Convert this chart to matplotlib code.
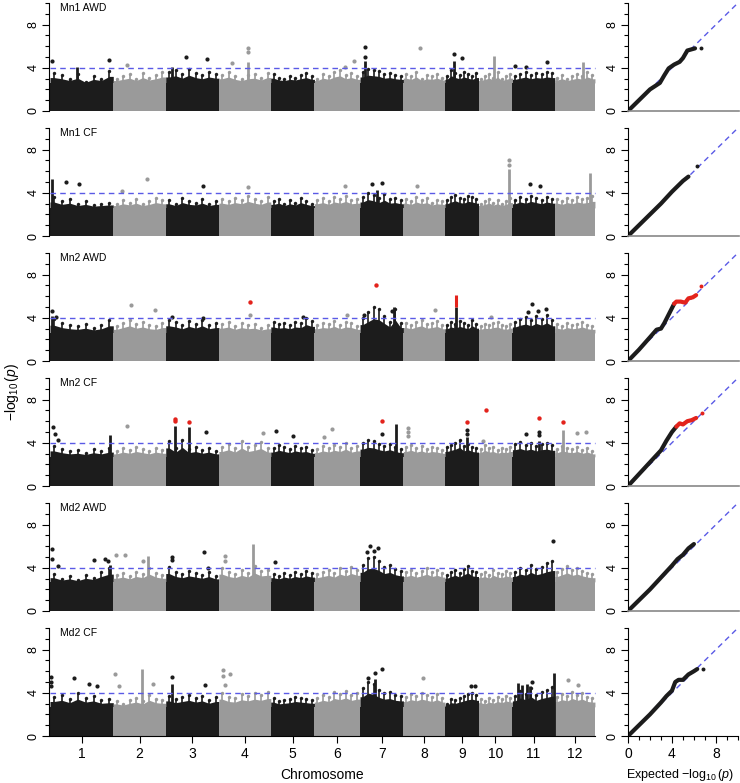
import numpy as np
import matplotlib
matplotlib.use('Agg')
import matplotlib.pyplot as plt
from matplotlib.ticker import MultipleLocator

plt.rcParams['font.family'] = ['Liberation Sans', 'DejaVu Sans']
plt.rcParams['mathtext.fontset'] = 'custom'
plt.rcParams['mathtext.rm'] = 'Liberation Sans'
plt.rcParams['mathtext.it'] = 'Liberation Sans:italic'

# rice chromosome lengths (Mb)
chrom_len = [43.3, 35.9, 36.4, 35.5, 29.9, 31.2, 29.7, 28.4, 23.0, 23.2, 29.0, 27.5]
chrom_names = [str(i) for i in range(1, 13)]
panel_names = ['Mn1 AWD', 'Mn1 CF', 'Mn2 AWD', 'Mn2 CF', 'Md2 AWD', 'Md2 CF']
threshold = 4

# top of the dense SNP cloud, 8 reads along each chromosome
body = [
    [[3.5, 3.3, 3.0, 3.4, 2.7, 3.2, 3.0, 3.7], [3.0, 3.2, 3.4, 3.0, 3.5, 3.1, 3.3, 3.6],
     [3.6, 3.8, 3.4, 3.9, 3.5, 3.3, 3.6, 3.4], [3.3, 3.6, 3.2, 3.0, 3.3, 3.4, 3.1, 3.5],
     [3.4, 3.1, 3.0, 3.2, 3.1, 3.3, 3.5, 3.2], [3.0, 3.4, 3.2, 3.6, 3.8, 3.3, 3.5, 3.2],
     [3.6, 3.9, 3.8, 3.7, 3.4, 3.5, 3.3, 3.2], [3.4, 3.2, 3.6, 3.0, 3.3, 3.2, 3.4, 3.1],
     [3.2, 3.8, 3.5, 3.3, 3.6, 3.4, 3.2, 3.5], [3.0, 3.2, 3.4, 3.1, 3.6, 3.0, 3.2, 3.4],
     [3.2, 3.4, 3.6, 3.3, 3.5, 3.4, 3.6, 3.5], [3.1, 3.3, 3.0, 3.2, 3.4, 3.2, 3.6, 3.3]],
    [[3.6, 3.2, 3.4, 3.0, 3.2, 2.9, 3.0, 3.1], [3.0, 3.3, 3.1, 3.4, 3.0, 3.2, 3.5, 3.3],
     [3.3, 3.0, 3.5, 3.2, 3.1, 3.4, 3.0, 3.2], [3.4, 3.2, 3.5, 3.3, 3.7, 3.4, 3.2, 3.6],
     [3.2, 3.4, 3.0, 3.3, 3.1, 3.5, 3.2, 3.0], [3.3, 3.5, 3.2, 3.6, 3.4, 3.7, 3.3, 3.4],
     [3.6, 4.0, 3.8, 3.5, 3.9, 3.4, 3.5, 3.3], [3.4, 3.2, 3.6, 3.3, 3.5, 3.1, 3.3, 3.2],
     [3.3, 3.6, 3.8, 3.5, 3.4, 3.7, 3.6, 3.4], [3.0, 3.2, 3.4, 3.1, 3.3, 3.0, 3.2, 3.5],
     [3.3, 3.6, 3.4, 3.7, 3.5, 3.3, 3.6, 3.4], [3.4, 3.2, 3.5, 3.3, 3.6, 3.4, 3.5, 3.7]],
    [[3.9, 3.5, 3.3, 3.2, 3.4, 3.1, 3.3, 3.8], [3.2, 3.5, 3.8, 3.4, 3.6, 3.3, 3.2, 3.5],
     [3.8, 3.6, 3.3, 3.7, 3.4, 3.8, 3.3, 3.5], [3.4, 3.6, 3.2, 3.5, 3.3, 3.4, 3.1, 3.3],
     [3.6, 3.4, 3.5, 3.3, 3.6, 3.5, 4.0, 3.7], [3.3, 3.5, 3.4, 3.7, 3.3, 3.6, 3.5, 3.2],
     [4.0, 4.5, 5.0, 4.8, 4.2, 3.6, 4.8, 3.5], [3.5, 3.3, 3.6, 3.8, 3.4, 3.5, 3.7, 3.3],
     [3.3, 3.6, 3.4, 3.7, 3.5, 3.3, 3.8, 3.4], [3.2, 3.4, 3.3, 3.5, 3.6, 3.3, 3.2, 3.4],
     [3.6, 3.9, 4.1, 3.8, 4.2, 3.9, 4.3, 3.8], [3.4, 3.2, 3.5, 3.3, 3.4, 3.6, 3.3, 3.2]],
    [[3.7, 3.4, 3.2, 3.3, 3.1, 3.4, 3.2, 3.5], [3.2, 3.5, 3.3, 3.6, 3.4, 3.2, 3.5, 3.3],
     [4.2, 3.5, 4.3, 3.4, 3.6, 3.3, 3.5, 3.2], [3.6, 3.9, 3.5, 4.2, 3.6, 3.8, 4.1, 3.5],
     [3.5, 3.8, 3.6, 3.4, 3.7, 3.5, 3.6, 3.3], [3.4, 3.7, 3.5, 3.8, 3.6, 4.0, 3.5, 3.7],
     [4.0, 4.3, 4.2, 3.9, 3.7, 3.9, 3.6, 3.4], [3.6, 3.8, 3.5, 3.7, 3.4, 3.6, 3.5, 3.3],
     [3.6, 3.8, 4.0, 4.3, 3.7, 3.9, 3.6, 3.5], [3.4, 3.8, 3.5, 3.6, 3.3, 3.5, 3.4, 3.6],
     [3.9, 4.1, 3.8, 4.0, 3.7, 3.9, 4.0, 3.8], [3.4, 3.7, 3.5, 3.4, 3.6, 3.3, 3.5, 3.2]],
    [[3.4, 3.0, 3.2, 2.9, 3.3, 3.1, 3.6, 4.0], [3.3, 3.5, 3.2, 3.6, 3.4, 4.0, 3.5, 3.3],
     [4.1, 3.6, 3.4, 3.7, 3.5, 3.3, 3.6, 3.2], [4.0, 3.6, 3.4, 3.8, 3.5, 4.2, 3.7, 3.8],
     [3.4, 3.2, 3.5, 3.3, 3.6, 3.4, 3.7, 3.5], [3.4, 3.6, 3.8, 3.5, 4.0, 3.7, 4.1, 3.8],
     [4.3, 4.9, 5.0, 4.6, 4.1, 4.3, 3.9, 3.7], [3.6, 3.8, 3.5, 3.7, 4.0, 3.6, 3.8, 3.5],
     [3.3, 3.6, 3.8, 3.5, 3.9, 4.2, 3.7, 3.6], [3.4, 3.6, 3.3, 3.8, 3.5, 3.4, 3.7, 3.5],
     [3.6, 4.0, 3.8, 4.3, 3.9, 4.1, 4.4, 4.6], [3.6, 3.9, 4.2, 3.8, 4.0, 3.7, 3.5, 3.4]],
    [[3.6, 3.8, 3.4, 4.0, 3.5, 3.7, 3.3, 3.4], [3.2, 3.0, 3.3, 3.5, 3.2, 3.8, 3.4, 3.3],
     [3.7, 3.4, 3.6, 3.8, 3.5, 3.7, 3.3, 3.6], [4.0, 3.6, 3.5, 3.9, 3.7, 4.0, 3.8, 4.1],
     [3.5, 3.2, 3.3, 3.4, 3.6, 3.5, 3.4, 3.3], [3.5, 3.8, 3.6, 4.1, 3.9, 4.2, 3.8, 4.0],
     [4.4, 5.0, 4.8, 4.3, 4.0, 4.1, 3.8, 3.7], [3.6, 3.9, 3.7, 4.0, 3.8, 3.6, 3.9, 3.5],
     [3.0, 3.4, 3.3, 3.5, 3.7, 3.9, 4.0, 3.8], [3.4, 3.2, 3.5, 3.3, 3.6, 3.4, 3.7, 3.5],
     [3.7, 4.2, 3.9, 4.4, 3.8, 4.1, 4.3, 4.5], [3.6, 3.9, 3.7, 4.1, 3.8, 4.0, 3.6, 3.5]],
]
# height of the solid core under the cloud
core = [2.6, 2.6, 2.6, 2.7, 2.7, 2.7]

# tall single-locus columns: (chromosome index, fraction along chromosome, top)
spikes = [
    [(0, 0.43, 4.1), (2, 0.11, 4.1), (3, 0.56, 4.5), (6, 0.12, 4.6), (8, 0.26, 4.6),
     (9, 0.46, 5.1), (11, 0.70, 4.5)],
    [(0, 0.03, 5.3), (6, 0.40, 4.3), (9, 0.89, 6.2), (11, 0.88, 5.8)],
    [(0, 0.03, 4.2), (6, 0.79, 5.0), (8, 0.32, 5.0)],
    [(0, 0.95, 4.7), (2, 0.17, 5.6), (2, 0.43, 5.5), (6, 0.84, 5.7), (8, 0.65, 4.5),
     (10, 0.63, 4.2), (11, 0.20, 5.2)],
    [(0, 0.95, 4.3), (1, 0.67, 5.1), (3, 0.65, 6.2)],
    [(1, 0.54, 6.2), (2, 0.11, 4.8), (6, 0.35, 5.3), (10, 0.14, 4.9), (10, 0.23, 4.7),
     (10, 0.35, 4.8), (10, 0.42, 4.6), (10, 0.98, 5.8)],
]

# isolated SNPs above the cloud: (chromosome index, fraction, -log10 p)
dots = [
    [(0, 0.03, 4.6), (0, 0.93, 4.7), (1, 0.27, 4.3), (2, 0.38, 5.0), (2, 0.77, 4.8),
     (3, 0.25, 4.4), (3, 0.56, 5.5), (3, 0.56, 5.8), (5, 0.87, 4.6), (5, 0.67, 4.1),
     (6, 0.12, 5.0), (6, 0.12, 5.9), (7, 0.40, 5.8), (8, 0.26, 5.3), (8, 0.50, 4.9),
     (10, 0.05, 4.2), (10, 0.33, 4.1), (10, 0.81, 4.5)],
    [(0, 0.25, 5.0), (0, 0.46, 4.8), (1, 0.65, 5.3), (1, 0.17, 4.2), (2, 0.70, 4.6),
     (3, 0.56, 4.5), (5, 0.67, 4.6), (6, 0.28, 4.8), (6, 0.51, 4.9), (7, 0.33, 4.6),
     (9, 0.89, 7.0), (9, 0.89, 6.6), (10, 0.42, 4.8), (10, 0.65, 4.6)],
    [(0, 0.03, 4.6), (0, 0.10, 4.1), (1, 0.33, 5.2), (1, 0.79, 4.7), (2, 0.11, 4.1),
     (2, 0.70, 4.0), (3, 0.60, 4.3), (4, 0.73, 4.1), (5, 0.72, 4.3), (6, 0.09, 4.3),
     (6, 0.74, 4.6), (7, 0.76, 4.7), (9, 0.37, 4.1), (10, 0.47, 5.3), (10, 0.37, 4.5),
     (10, 0.60, 4.6), (10, 0.79, 4.8)],
    [(0, 0.05, 5.5), (0, 0.08, 4.8), (0, 0.13, 4.3), (1, 0.27, 5.6), (2, 0.75, 5.0),
     (3, 0.85, 4.9), (4, 0.11, 5.1), (4, 0.50, 4.6), (5, 0.39, 5.3), (5, 0.20, 4.5),
     (6, 0.51, 4.8), (7, 0.10, 5.4), (7, 0.10, 5.0), (7, 0.10, 4.6), (8, 0.65, 5.2),
     (8, 0.65, 4.8), (9, 0.14, 4.2), (10, 0.63, 5.0), (10, 0.63, 4.7), (10, 0.33, 4.8),
     (11, 0.55, 4.9), (11, 0.78, 5.0)],
    [(0, 0.03, 5.7), (0, 0.03, 4.8), (0, 0.13, 4.2), (0, 0.69, 4.7), (0, 0.87, 4.8),
     (0, 0.92, 4.6), (1, 0.06, 5.2), (1, 0.23, 5.2), (1, 0.56, 4.6), (2, 0.11, 5.0),
     (2, 0.11, 4.7), (2, 0.72, 5.5), (2, 0.79, 4.0), (3, 0.12, 5.1), (3, 0.12, 4.6),
     (4, 0.09, 4.5), (6, 0.16, 5.5), (6, 0.23, 6.0), (6, 0.33, 5.6), (6, 0.42, 5.8),
     (10, 0.95, 6.5)],
    [(0, 0.02, 5.5), (0, 0.02, 5.0), (0, 0.02, 4.6), (0, 0.38, 5.4), (0, 0.62, 4.8),
     (0, 0.75, 4.6), (1, 0.04, 5.7), (1, 0.10, 4.6), (1, 0.75, 4.8), (2, 0.11, 5.5),
     (2, 0.74, 4.7), (3, 0.08, 6.1), (3, 0.08, 5.6), (3, 0.21, 5.7), (3, 0.12, 4.7),
     (6, 0.35, 5.8), (6, 0.51, 6.2), (6, 0.19, 5.4), (7, 0.48, 5.4), (8, 0.79, 4.6),
     (8, 0.91, 4.6), (10, 0.47, 5.0), (11, 0.33, 5.2), (11, 0.58, 4.7)],
]

# significant SNPs drawn in red
red_dots = [
    [],
    [],
    [(3, 0.60, 5.5), (6, 0.37, 7.0)],
    [(2, 0.17, 6.2), (2, 0.17, 6.0), (2, 0.43, 5.9), (6, 0.51, 6.0), (8, 0.65, 5.9),
     (9, 0.23, 7.0), (10, 0.63, 6.3), (11, 0.20, 5.9)],
    [],
    [],
]
# red column segments: (chromosome index, fraction, bottom, top)
red_spikes = [[], [], [(8, 0.32, 5.0, 6.1)], [], [], []]

# QQ plots: expected vs observed -log10 p
qq_exp = [
    [0, 1, 2, 2.9, 3.3, 3.7, 4.2, 4.7, 5.0, 5.4, 6.1],
    [0, 1, 2, 3, 4, 4.5, 5.0, 5.5],
    [0, 1, 2, 2.6, 3.0, 3.3, 3.6, 4.0, 4.2],
    [0, 1, 2, 3, 3.5, 4.0, 4.4],
    [0, 1, 2, 3, 4, 4.5, 5.0, 5.5, 6.0],
    [0, 1, 2, 3, 3.5, 4.0, 4.3, 4.6, 5.0, 5.5, 6.0, 6.3],
]
qq_obs = [
    [0, 1, 2, 2.6, 3.3, 3.95, 4.3, 4.55, 4.9, 5.6, 5.8],
    [0, 1, 2, 3, 4.1, 4.6, 5.1, 5.5],
    [0, 1.05, 2.2, 2.9, 3.0, 3.5, 4.1, 4.9, 5.3],
    [0, 1.1, 2.2, 3.3, 4.2, 5.0, 5.5],
    [0, 1, 2, 3.1, 4.2, 4.8, 5.2, 5.8, 6.2],
    [0, 1, 2, 3.1, 3.7, 4.2, 5.0, 5.2, 5.2, 5.7, 6.0, 6.2],
]
qq_red_exp = [[], [], [4.2, 4.4, 4.8, 5.2, 5.5, 5.9, 6.2], [4.4, 4.7, 5.0, 5.4, 5.8, 6.2], [], []]
qq_red_obs = [[], [], [5.3, 5.5, 5.5, 5.4, 5.8, 5.9, 6.1], [5.5, 5.8, 5.7, 6.0, 6.1, 6.3], [], []]
# last (most significant) point, drawn on its own
qq_tail = [(6.6, 5.8, 'k'), (6.3, 6.5, 'k'), (6.6, 6.9, 'r'), (6.7, 6.8, 'r'), None, (6.8, 6.2, 'k')]

BLACK = '#1c1c1c'
GREY = '#9a9a9a'
RED = '#e3231c'
BLUE = '#5a5ae6'

starts = np.concatenate([[0], np.cumsum(chrom_len)[:-1]])
total = sum(chrom_len)
centers = starts + np.array(chrom_len) / 2


def gx(c, f):
    return starts[c] + f * chrom_len[c]


def ccol(c):
    return BLACK if c % 2 == 0 else GREY


fig = plt.figure(figsize=(7.4, 7.83), dpi=100)
W, H = 740, 783

for i, name in enumerate(panel_names):
    y0 = 111 + 125 * i
    ax = fig.add_axes([49 / W, 1 - y0 / H, 548 / W, 108 / H])
    qa = fig.add_axes([628 / W, 1 - y0 / H, 111 / W, 108 / H])

    # manhattan: solid core, then the ragged cloud top as thin whiskers with dots
    for c in range(12):
        h = np.array(body[i][c])
        n = len(h)
        col = ccol(c)
        xs = starts[c] + (np.arange(n) + 0.5) * chrom_len[c] / n
        ax.fill_between([starts[c], starts[c] + chrom_len[c]], 0, core[i], color=col, linewidth=0)
        edge = np.concatenate([[starts[c]], xs, [starts[c] + chrom_len[c]]])
        top = np.concatenate([[h[0]], h, [h[-1]]])
        ax.fill_between(edge, core[i], core[i] + (top - core[i]) * 0.55, color=col, linewidth=0)
        ax.vlines(xs, core[i], h, color=col, lw=1.2)
        ax.scatter(xs, h, s=6, color=col, linewidths=0)
    for c, f, top in spikes[i]:
        ax.vlines(gx(c, f), 0, top, color=ccol(c), lw=2)
    for c, f, v in dots[i]:
        ax.scatter(gx(c, f), v, s=9, color=ccol(c), linewidths=0, zorder=3)
    for c, f, b, t in red_spikes[i]:
        ax.vlines(gx(c, f), b, t, color=RED, lw=2.2, zorder=4)
    for c, f, v in red_dots[i]:
        ax.scatter(gx(c, f), v, s=10, color=RED, linewidths=0, zorder=4)
    ax.hlines(threshold, 0, total, color=BLUE, lw=1, linestyles=(0, (4, 3)), zorder=5)

    ax.set_xlim(-0.7, total + 1.4)
    ax.set_ylim(0, 10)
    ax.text(0.02, 0.95, name, transform=ax.transAxes, fontsize=7.5, va='center')

    # qq
    qa.plot([0, 10.5], [0, 10.5], color=BLUE, lw=1, ls=(0, (4, 3)), zorder=1)
    qa.plot(qq_exp[i], qq_obs[i], color=BLACK, lw=3, solid_capstyle='round', zorder=2)
    if qq_red_exp[i]:
        qa.plot(qq_red_exp[i], qq_red_obs[i], color=RED, lw=3, solid_capstyle='round', zorder=3)
    if qq_tail[i]:
        tx, ty, tc = qq_tail[i]
        qa.scatter(tx, ty, s=8, color=RED if tc == 'r' else BLACK, linewidths=0, zorder=3)
    qa.set_xlim(0, 10.1)
    qa.set_ylim(0, 10)

    for a in (ax, qa):
        for s in ('top', 'right'):
            a.spines[s].set_visible(False)
        a.spines['left'].set_bounds(0, 10)
        a.spines['left'].set_linewidth(0.8)
        a.yaxis.set_minor_locator(MultipleLocator(1))
        a.set_yticks([0, 4, 8])
        a.set_yticklabels(['0', '4', '8'], rotation=90, va='center', fontsize=9)
        a.tick_params(axis='y', which='major', length=5, width=0.8, pad=2)
        a.tick_params(axis='y', which='minor', length=3, width=0.8)
        a.patch.set_alpha(0)

    if i < 5:
        ax.spines['bottom'].set_visible(False)
        ax.set_xticks([])
        qa.spines['bottom'].set_color('#888888')
        qa.spines['bottom'].set_linewidth(1.2)
        qa.set_xticks([])
    else:
        ax.spines['bottom'].set_bounds(0, total)
        ax.spines['bottom'].set_linewidth(0.8)
        ax.set_xticks(centers)
        ax.set_xticklabels(chrom_names, fontsize=10)
        ax.tick_params(axis='x', length=5, width=0.8, pad=3)
        qa.spines['bottom'].set_bounds(0, 10)
        qa.set_xticks([0, 4, 8])
        qa.xaxis.set_minor_locator(MultipleLocator(1))
        qa.set_xticklabels(['0', '4', '8'], fontsize=10)
        qa.tick_params(axis='x', which='major', length=5, width=0.8, pad=3)
        qa.tick_params(axis='x', which='minor', length=3, width=0.8)

fig.text(0.016, 0.50, r'$-\log_{10}(\mathit{p})$', rotation=90, ha='center', va='center', fontsize=10)
fig.text(322 / W, 1 - 775 / H, 'Chromosome', ha='center', va='center', fontsize=10)
fig.text(680 / W, 1 - 775 / H, r'Expected $-\log_{10}(\mathit{p})$', ha='center', va='center', fontsize=9)

fig.savefig('out.png', dpi=100)
